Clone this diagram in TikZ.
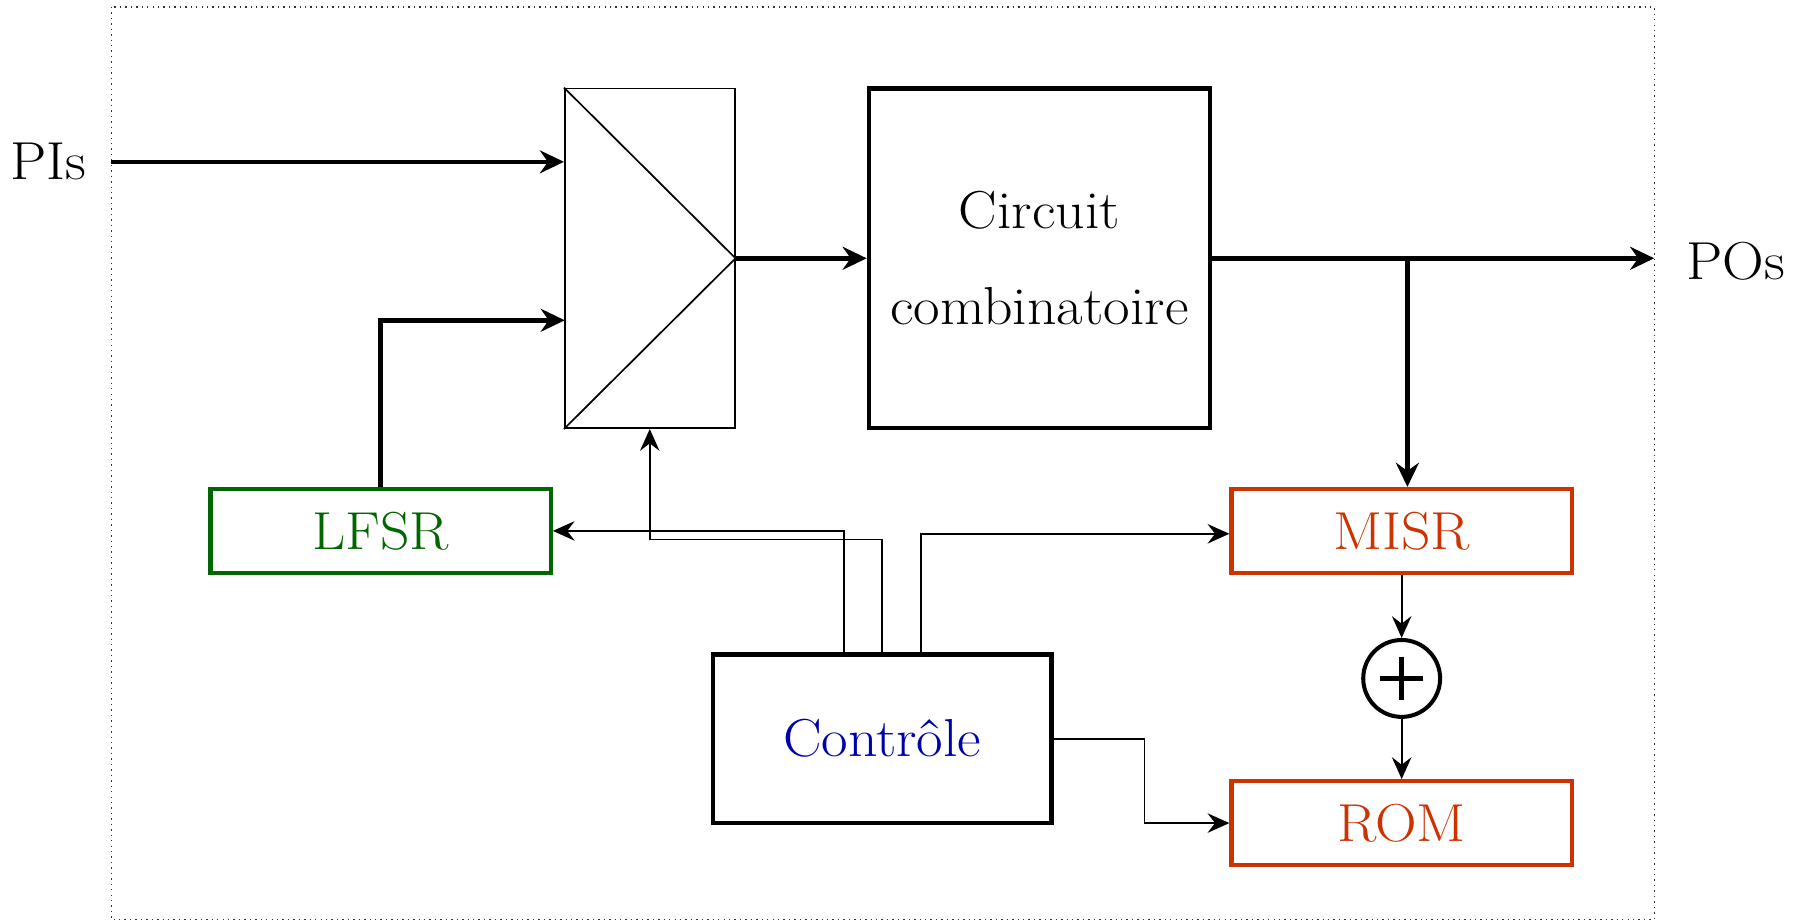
\documentclass[tikz,border=0pt]{standalone}
\usepackage{fontspec}
\setmainfont{Latin Modern Roman}[FakeStretch=1.08]
\usetikzlibrary{arrows.meta,calc}
\definecolor{lfsrgreen}{RGB}{0,102,0}
\definecolor{misrred}{RGB}{204,51,0}
\definecolor{ctrlblue}{RGB}{0,0,170}
\tikzset{
  thickarrow/.style={line width=2.3pt,-{Stealth[length=0.42cm,width=0.4cm,inset=0.14cm]}},
  thinarrow/.style={line width=0.85pt,-{Stealth[length=0.38cm,width=0.34cm,inset=0.13cm]}},
  thickline/.style={line width=2.3pt},
  blockbox/.style={draw,line width=2.3pt,inner sep=0pt,font=\fontsize{26.5}{47.8}\selectfont,align=center},
  colbox/.style={draw,line width=2.1pt,inner sep=0pt,minimum width=5.93cm,minimum height=1.46cm,font=\fontsize{26.5}{32}\selectfont},
  muxbox/.style={draw,line width=0.85pt,inner sep=0pt,minimum width=2.96cm,minimum height=5.92cm},
  lbl/.style={font=\fontsize{26.5}{32}\selectfont,inner sep=0pt}
}
\begin{document}
\begin{tikzpicture}[x=0.02cm,y=-0.02cm]
\useasboundingbox (0,0) rectangle (1568,803);
% frame
\draw[dotted,line width=0.7pt,black!80] (97,6) rectangle (1441,801);
% nodes
\node[muxbox] (mux) at (566,225) {};
\node[blockbox,minimum width=5.94cm,minimum height=5.92cm] (circ) at (905.5,225) {Circuit\\combinatoire};
\node[colbox,draw=lfsrgreen,text=lfsrgreen] (lfsr) at (331.5,462.5) {LFSR};
\node[colbox,draw=misrred,text=misrred] (misr) at (1221,462.5) {MISR};
\node[colbox,draw=misrred,text=misrred] (rom) at (1221,717) {ROM};
\node[blockbox,minimum width=5.9cm,minimum height=2.94cm,text=ctrlblue,font=\fontsize{26.5}{32}\selectfont] (ctrl) at (768.5,643.5) {Contrôle};
\node[draw,circle,line width=2pt,minimum size=1.34cm,inner sep=0pt] (xor) at (1221,591) {};
\draw[line width=2.2pt] ($(xor.center)+(-19,0)$) -- ($(xor.center)+(19,0)$);
\draw[line width=2.2pt] ($(xor.center)+(0,-19)$) -- ($(xor.center)+(0,19)$);
\node[lbl] (pis) at (42,141) {PIs};
\node[lbl] (pos) at (1512,228) {POs};
% mux interior
\draw[line width=0.85pt] (mux.north west) -- (mux.east) -- (mux.south west);
% coordinates
\coordinate (pin) at (97,141);
\coordinate (in2) at (492,279);
\coordinate (pout) at (1441,225);
\coordinate (br) at (1226,225);
\coordinate (c1) at ($(ctrl.north)+(-33.5,0)$);
\coordinate (c3) at ($(ctrl.north)+(33.5,0)$);
% thick connections
\draw[thickarrow] (pin) -- (pin -| mux.west);
\draw[thickarrow] (lfsr.north) |- (in2);
\draw[thickarrow] (mux.east) -- (circ.west);
\draw[thickarrow] (circ.east) -- (pout);
\draw[thickarrow] (br) -- (br |- misr.north);
% thin connections
\draw[thinarrow] (c1) |- (lfsr.east);
\draw[thinarrow] (ctrl.north) -- ++(0,-98) -| (mux.south);
\draw[thinarrow] (c3) |- ($(misr.west)+(0,2.5)$);
\draw[thinarrow] (ctrl.east) -- ++(79,0) |- (rom.west);
\draw[thinarrow] (misr.south) -- (xor.north);
\draw[thinarrow] (xor.south) -- (rom.north);
\end{tikzpicture}
\end{document}
